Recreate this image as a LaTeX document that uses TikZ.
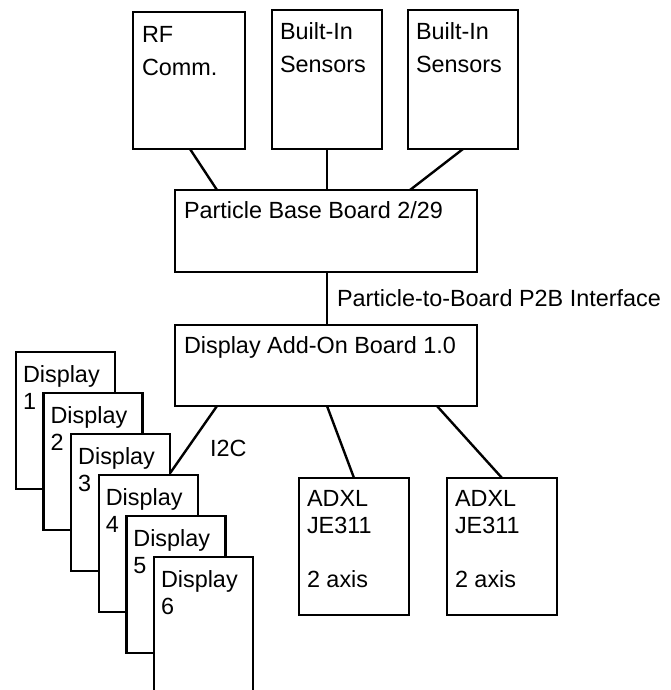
\documentclass[tikz,border=0pt]{standalone}
\usepackage{fontspec}
\setmainfont{Liberation Sans}
\usetikzlibrary{calc}
\begin{document}
\begin{tikzpicture}[x=1pt,y=-1pt,
  box/.style={draw, line width=2.4pt, fill=white, rectangle, inner sep=0pt, outer sep=0pt, anchor=north west},
  txt/.style={inner sep=0pt, outer sep=0pt, anchor=north west, align=left, font=\fontsize{23.4}{27}\selectfont},
  toptxt/.style={txt, font=\fontsize{23.4}{33}\selectfont},
  wire/.style={line width=2.4pt}]
\useasboundingbox (0,0) rectangle (671,690);
\clip (0,0) rectangle (671,690);

% top boxes
\node[box, minimum width=112pt, minimum height=137pt] (rf) at (133,12) {};
\node[toptxt] (rft) at ($(rf.north west)+(9,14)$) {RF\\Comm.};
\node[box, minimum width=110pt, minimum height=139pt] (bi1) at (272,10) {};
\node[toptxt] (bi1t) at ($(bi1.north west)+(8,13)$) {Built-In\\Sensors};
\node[box, minimum width=110pt, minimum height=139pt] (bi2) at (408,10) {};
\node[toptxt] (bi2t) at ($(bi2.north west)+(8,13)$) {Built-In\\Sensors};

% boards
\node[box, minimum width=302pt, minimum height=82pt] (pbb) at (175,190) {};
\node[txt] (pbbt) at ($(pbb.north west)+(9,12)$) {Particle Base Board 2/29};
\node[box, minimum width=302pt, minimum height=81pt] (addon) at (175,325) {};
\node[txt] (addont) at ($(addon.north west)+(9,12)$) {Display Add-On Board 1.0};

% ADXL boxes
\node[box, minimum width=110pt, minimum height=137pt] (ax1) at (299,478) {};
\node[txt] (ax1t) at ($(ax1.north west)+(8,12)$) {ADXL\\JE311\\[27pt]2 axis};
\node[box, minimum width=110pt, minimum height=137pt] (ax2) at (447,478) {};
\node[txt] (ax2t) at ($(ax2.north west)+(8,12)$) {ADXL\\JE311\\[27pt]2 axis};

% display stack
\node[box, minimum width=99pt, minimum height=137pt] (d1) at (16,352) {};
\node[txt] (dt1) at ($(d1.north west)+(7,14)$) {Display\\1};
\node[box, minimum width=99pt, minimum height=137pt] (d2) at (43.6,393) {};
\node[txt] (dt2) at ($(d2.north west)+(7,14)$) {Display\\2};
\node[box, minimum width=99pt, minimum height=137pt] (d3) at (71.2,434) {};
\node[txt] (dt3) at ($(d3.north west)+(7,14)$) {Display\\3};
\node[box, minimum width=99pt, minimum height=137pt] (d4) at (98.8,475) {};
\node[txt] (dt4) at ($(d4.north west)+(7,14)$) {Display\\4};
\node[box, minimum width=99pt, minimum height=137pt] (d5) at (126.4,516) {};
\node[txt] (dt5) at ($(d5.north west)+(7,14)$) {Display\\5};
\node[box, minimum width=99pt, minimum height=137pt] (d6) at (154,557) {};
\node[txt] (dt6) at ($(d6.north west)+(7,14)$) {Display\\6};

% connectors
\draw[wire] ($(rf.south west)+(57,0)$) -- ($(pbb.north west)+(42,0)$);
\draw[wire] (bi1.south) -- (bi1.south |- pbb.north);
\draw[wire] (bi2.south) -- ($(pbb.north west)+(235,0)$);
\draw[wire] ($(pbb.south west)+(152,0)$) coordinate (p2b) -- (p2b |- addon.north);
\node[txt] (p2bl) at (337,290) {Particle-to-Board P2B Interface};
\draw[wire] ($(addon.south west)+(152,0)$) -- (ax1.north);
\draw[wire] ($(addon.south west)+(262,0)$) -- (ax2.north);
\draw[wire] ($(addon.south west)+(42,0)$) -- ($(d3.north east)+(0,39)$);
\node[txt] (i2c) at (210,440) {I2C};
\end{tikzpicture}
\end{document}
